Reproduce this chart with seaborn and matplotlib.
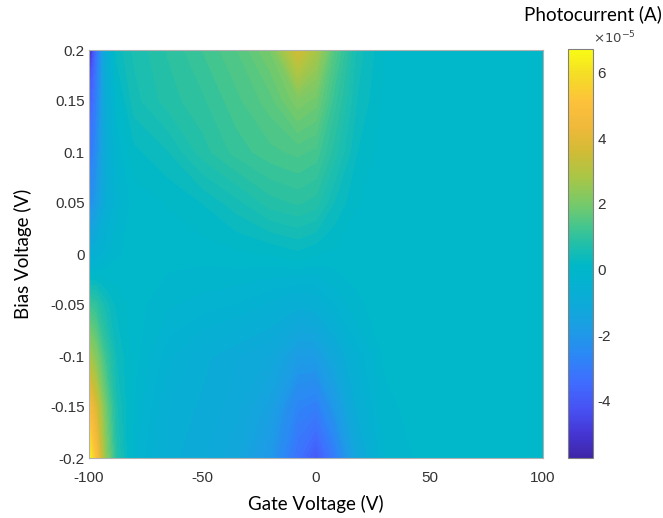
import numpy as np
import matplotlib
matplotlib.use("Agg")
import matplotlib.pyplot as plt
from matplotlib.colors import LinearSegmentedColormap
import seaborn as sns

# ---- data (photocurrent in units of 1e-5 A) ----
gate_voltage = [-100, -97, -93, -88, -80, -65, -50, -35, -20, -8, 0, 8, 18, 30, 50, 75, 100]
bias_voltage = [-0.2, -0.15, -0.1, -0.05, 0.0, 0.05, 0.1, 0.15, 0.2]

i_bias_m020 = [6.72, 5.0, 2.5, 0.8, -0.2, -0.8, -1.0, -1.3, -2.0, -3.3, -4.0, -3.0, -1.3, -0.2, 0, 0, 0]
i_bias_m015 = [4.8, 3.8, 2.0, 0.6, -0.1, -0.7, -0.9, -1.1, -1.6, -2.7, -2.9, -2.0, -0.8, -0.1, 0, 0, 0]
i_bias_m010 = [2.8, 2.2, 1.2, 0.4, 0.0, -0.5, -0.8, -1.0, -1.2, -1.8, -1.8, -1.2, -0.5, -0.05, 0, 0, 0]
i_bias_m005 = [1.2, 1.0, 0.5, 0.2, 0.0, -0.2, -0.3, -0.4, -0.6, -0.8, -0.7, -0.4, -0.1, 0.0, 0, 0, 0]
i_bias_p000 = [-0.8, -0.6, -0.3, -0.1, 0.0, 0.0, 0.0, 0.05, 0.1, 0.2, 0.1, 0.05, 0.0, 0.0, 0, 0, 0]
i_bias_p005 = [-2.4, -1.9, -0.9, -0.3, 0.0, 0.1, 0.25, 0.5, 0.8, 0.9, 0.8, 0.4, 0.1, 0.0, 0, 0, 0]
i_bias_p010 = [-3.2, -2.5, -1.0, -0.2, 0.2, 0.4, 0.8, 1.1, 1.3, 1.4, 1.3, 0.8, 0.25, 0.0, 0, 0, 0]
i_bias_p015 = [-4.0, -3.0, -1.0, 0.0, 0.5, 0.8, 1.0, 1.3, 1.6, 2.1, 1.9, 1.1, 0.4, 0.05, 0, 0, 0]
i_bias_p020 = [-5.75, -3.5, -1.0, 0.3, 0.6, 0.9, 1.2, 1.5, 2.0, 3.6, 2.8, 1.5, 0.5, 0.1, 0, 0, 0]

x_ticks = [-100, -50, 0, 50, 100]
y_ticks = [-0.2, -0.15, -0.1, -0.05, 0, 0.05, 0.1, 0.15, 0.2]
y_ticklabels = ["-0.2", "-0.15", "-0.1", "-0.05", "0", "0.05", "0.1", "0.15", "0.2"]
cbar_ticks = [-4, -2, 0, 2, 4, 6]
c_min, c_max = -5.75, 6.72

Z = np.array([i_bias_m020, i_bias_m015, i_bias_m010, i_bias_m005, i_bias_p000,
              i_bias_p005, i_bias_p010, i_bias_p015, i_bias_p020])

# ---- parula-like colormap ----
parula_pts = [
    (0.00, (0.2422, 0.1504, 0.6603)),
    (0.06, (0.2706, 0.2147, 0.8364)),
    (0.12, (0.2810, 0.3228, 0.9579)),
    (0.19, (0.2440, 0.4358, 0.9988)),
    (0.25, (0.1707, 0.5317, 0.9640)),
    (0.31, (0.1160, 0.6100, 0.9000)),
    (0.38, (0.0500, 0.6700, 0.8450)),
    (0.44, (0.0100, 0.7050, 0.8100)),
    (0.47, (0.0000, 0.7200, 0.7850)),
    (0.52, (0.1200, 0.7500, 0.6700)),
    (0.57, (0.2800, 0.7750, 0.5500)),
    (0.62, (0.4600, 0.7900, 0.4200)),
    (0.69, (0.6700, 0.7750, 0.2700)),
    (0.75, (0.8200, 0.7350, 0.2100)),
    (0.81, (0.9400, 0.7250, 0.2300)),
    (0.87, (0.9900, 0.7550, 0.2300)),
    (0.94, (0.9600, 0.8700, 0.1500)),
    (1.00, (0.9769, 0.9839, 0.0805)),
]
parula = LinearSegmentedColormap.from_list("parula", parula_pts, N=256)

sns.set_theme(style="white")
plt.rcParams["font.family"] = ["Liberation Sans", "DejaVu Sans"]

fig = plt.figure(figsize=(6.63, 5.18), dpi=100)
W, H = 663, 518
ax = fig.add_axes([89 / W, 1 - 458 / H, 454 / W, 408 / H])
cax = fig.add_axes([568 / W, 1 - 458 / H, 25 / W, 409 / H])

levels = np.linspace(c_min, c_max, 80)
cs = ax.contourf(gate_voltage, bias_voltage, Z, levels=levels, cmap=parula,
                 vmin=c_min, vmax=c_max, antialiased=False)

ax.set_xlim(-100, 100)
ax.set_ylim(-0.2, 0.2)
ax.set_xticks(x_ticks)
ax.set_xticklabels([str(v) for v in x_ticks])
ax.set_yticks(y_ticks)
ax.set_yticklabels(y_ticklabels)
ax.tick_params(length=0, labelsize=11, labelcolor="#333333")
ax.tick_params(axis="x", pad=9.5)
ax.tick_params(axis="y", pad=3)
for s in ax.spines.values():
    s.set_color("#b0b0b0")
    s.set_linewidth(0.8)

lab_font = dict(family=["Lato", "DejaVu Sans"], size=13.5, color="#000000")
ax.set_xlabel("Gate Voltage (V)", labelpad=7, **lab_font)
ax.set_ylabel("Bias Voltage (V)", labelpad=13, **lab_font)

sm = matplotlib.cm.ScalarMappable(norm=matplotlib.colors.Normalize(c_min, c_max), cmap=parula)
cb = fig.colorbar(sm, cax=cax, ticks=cbar_ticks)
cb.ax.set_yticklabels([str(t) for t in cbar_ticks])
cb.ax.tick_params(direction="in", length=4, width=0.8, color="#444444",
                  labelsize=11, labelcolor="#333333", pad=3, right=True, left=False)
cb.outline.set_edgecolor("#808080")
cb.outline.set_linewidth(0.8)

fig.text(593 / W, 1 - 43 / H, r"$\times10^{-5}$", fontsize=9.5, color="#444444",
         ha="left", va="baseline")
fig.text(662 / W, 1 - 14 / H, "Photocurrent (A)", ha="right", va="center", **lab_font)

fig.savefig("out.png", dpi=100)
